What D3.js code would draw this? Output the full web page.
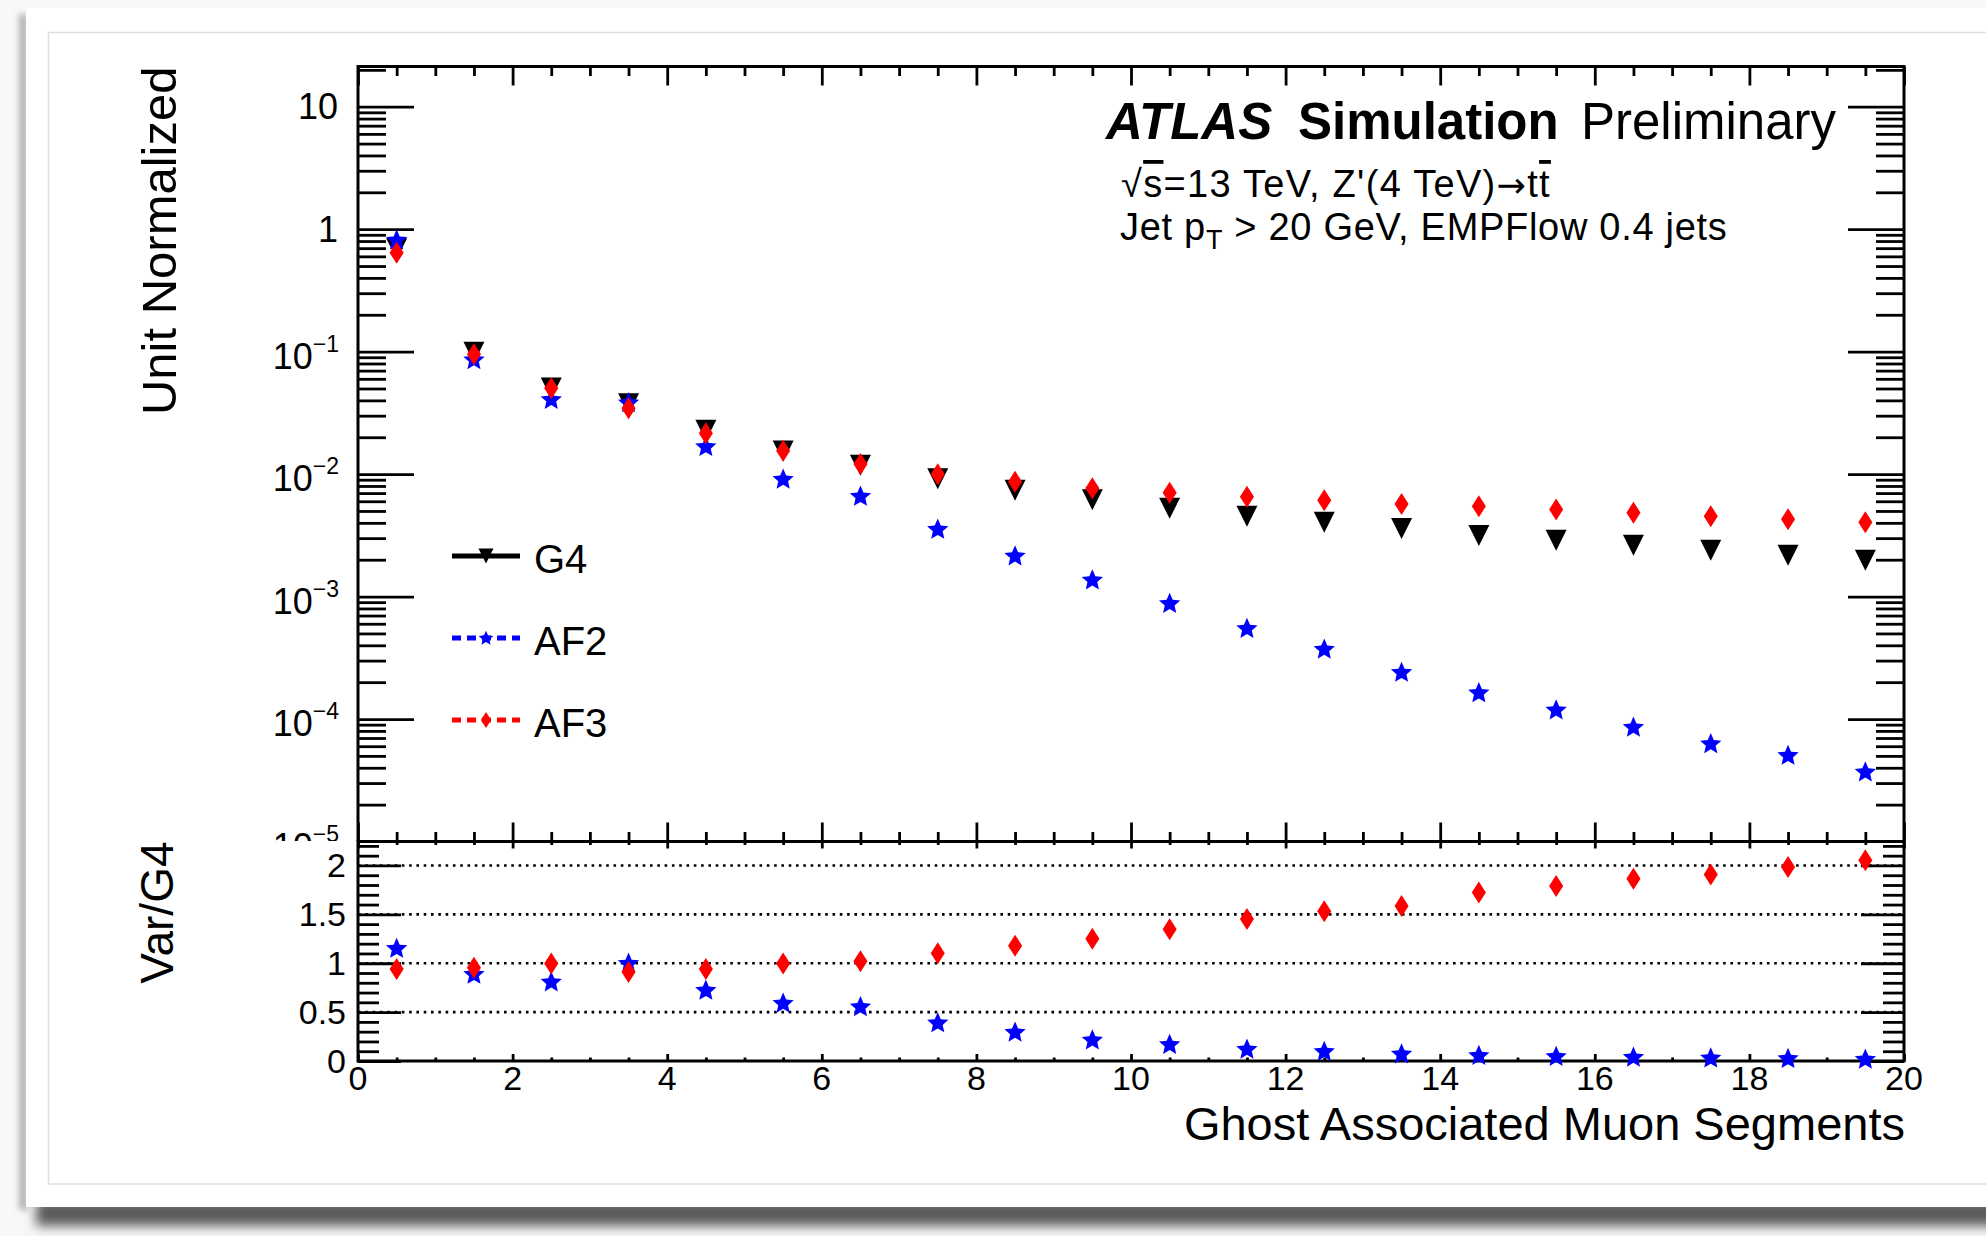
<!DOCTYPE html>
<html>
<head>
<meta charset="utf-8">
<script src="https://cdn.jsdelivr.net/npm/d3@7"></script>
<style>
  html, body { margin: 0; padding: 0; background: #f7f7f7; }
  svg { display: block; }
  text { font-family: "Liberation Sans", Arial, Helvetica, sans-serif; fill: #000; }
</style>
</head>
<body>
<svg id="chart" width="1986" height="1236"></svg>
<script>
// ---- data: bin centres of the muon-segment multiplicity histogram ----
const binCenters = [0.5, 1.5, 2.5, 3.5, 4.5, 5.5, 6.5, 7.5, 8.5, 9.5,
                    10.5, 11.5, 12.5, 13.5, 14.5, 15.5, 16.5, 17.5, 18.5, 19.5];

// unit-normalised fractions per bin
const g4Values  = [0.693, 0.099, 0.0505, 0.0376, 0.0228, 0.01546, 0.0118, 0.00918, 0.00738, 0.00618,
                   0.00526, 0.00453, 0.00404, 0.00359, 0.00316, 0.00288, 0.00262, 0.00239, 0.00217, 0.00198];
const af2Values = [0.816, 0.0860, 0.0408, 0.0383, 0.0168, 0.0091, 0.0066, 0.00355, 0.00215, 0.00137,
                   0.00088, 0.00055, 0.000373, 0.000241, 0.000164, 0.000119, 0.000086, 0.000063, 0.0000506, 0.000037];
const af3Values = [0.642, 0.0950, 0.0502, 0.0345, 0.0216, 0.0155, 0.0121, 0.00997, 0.00867, 0.00766,
                   0.00705, 0.00654, 0.00611, 0.00571, 0.00546, 0.00513, 0.00484, 0.00453, 0.00428, 0.00404];

// ratios to G4
const af2Ratio = [1.153, 0.888, 0.810, 1.000, 0.724, 0.592, 0.557, 0.391, 0.296, 0.217,
                  0.170, 0.122, 0.098, 0.072, 0.058, 0.047, 0.040, 0.031, 0.026, 0.020];
const af3Ratio = [0.942, 0.955, 0.996, 0.911, 0.942, 0.996, 1.020, 1.102, 1.180, 1.251,
                  1.347, 1.452, 1.531, 1.585, 1.724, 1.789, 1.864, 1.908, 1.983, 2.054];

// axis ticks and labels
const xMajorTicks = [0, 2, 4, 6, 8, 10, 12, 14, 16, 18, 20];
const xTickLabels = ["0", "2", "4", "6", "8", "10", "12", "14", "16", "18", "20"];
const mainDecadeExponents = [-5, -4, -3, -2, -1, 0, 1];
const ratioMajorTicks = [0, 0.5, 1, 1.5, 2];
const ratioTickLabels = ["0", "0.5", "1", "1.5", "2"];
const ratioGridValues = [0.5, 1, 1.5, 2];

// ---- layout ----
const W = 1986, H = 1236;
const frameL = 358, frameR = 1904, mainTop = 66.5, padSplit = 841.5, ratioBottom = 1061;

const svg = d3.select("#chart");
const defs = svg.append("defs");
defs.append("filter").attr("id", "shadowBlur")
  .attr("x", "-20%").attr("y", "-200%").attr("width", "140%").attr("height", "500%")
  .append("feGaussianBlur").attr("stdDeviation", 6);
defs.append("filter").attr("id", "edgeBlur")
  .attr("x", "-300%").attr("y", "-5%").attr("width", "700%").attr("height", "110%")
  .append("feGaussianBlur").attr("stdDeviation", 3);
defs.append("clipPath").attr("id", "upperPad")
  .append("rect").attr("x", 0).attr("y", 0).attr("width", W).attr("height", padSplit - 0.5);

// page, drop shadow and slide card
svg.append("rect").attr("width", W).attr("height", H).attr("fill", "#f8f8f8");
svg.append("rect").attr("x", 36).attr("y", 1200).attr("width", W).attr("height", 26)
  .attr("fill", "#5a5a5a").attr("filter", "url(#shadowBlur)");
svg.append("rect").attr("x", 19).attr("y", 14).attr("width", 9).attr("height", 1196)
  .attr("fill", "#b4b4b4").attr("filter", "url(#edgeBlur)");
svg.append("rect").attr("x", 26).attr("y", 8).attr("width", W).attr("height", 1199).attr("fill", "#fff");
svg.append("rect").attr("x", 48.5).attr("y", 32.5).attr("width", W).attr("height", 1151.5)
  .attr("fill", "none").attr("stroke", "#dedede").attr("stroke-width", 1.5);

// ---- scales ----
const x = d3.scaleLinear().domain([0, 20]).range([frameL, frameR]);
const y = d3.scaleLog().domain([1e-5, 21.3]).range([padSplit, mainTop]);
const yr = d3.scaleLinear().domain([0, 2.245]).range([ratioBottom, padSplit]);

// ---- marker shapes ----
const triangleDown = {
  draw(ctx, size) {
    const h = Math.sqrt(size) / 2;
    ctx.moveTo(-h, -h); ctx.lineTo(h, -h); ctx.lineTo(0, h); ctx.closePath();
  }
};
const diamond = {
  draw(ctx, size) {
    const s = Math.sqrt(size);
    const hw = s * 0.32, hh = s * 0.5;
    ctx.moveTo(0, -hh); ctx.lineTo(hw, 0); ctx.lineTo(0, hh); ctx.lineTo(-hw, 0); ctx.closePath();
  }
};
const star = {
  draw(ctx, size) {
    const R = Math.sqrt(size) / 2, r = R * 0.46;
    for (let k = 0; k < 10; k++) {
      const a = -Math.PI / 2 + k * Math.PI / 5;
      const rad = k % 2 === 0 ? R : r;
      const px = rad * Math.cos(a), py = rad * Math.sin(a) + R * 0.05;
      if (k === 0) ctx.moveTo(px, py); else ctx.lineTo(px, py);
    }
    ctx.closePath();
  }
};

// ---- tick helpers ----
const TW = 2.8;
function styleAxis(g) {
  g.select(".domain").remove();
  g.selectAll(".tick line").attr("stroke", "#000").attr("stroke-width", TW);
  g.selectAll(".tick text").remove();
}
function drawTicks(parent, axisGen, transform) {
  parent.append("g").attr("transform", transform).call(axisGen).call(styleAxis);
}

const xMinorTicks = d3.range(0.5, 20, 0.5).filter(v => !xMajorTicks.includes(v));
const yMajorValues = mainDecadeExponents.map(e => Math.pow(10, e));
const yMinorValues = [];
mainDecadeExponents.forEach(e => {
  for (let k = 2; k <= 9; k++) {
    const v = k * Math.pow(10, e);
    if (v < y.domain()[1]) yMinorValues.push(v);
  }
});
const ratioMinorTicks = d3.range(0.1, 2.245, 0.1).map(v => +v.toFixed(1)).filter(v => !ratioMajorTicks.includes(v));

// ================= upper pad =================
const upper = svg.append("g").attr("clip-path", "url(#upperPad)");

// x ticks on bottom and top of the main frame (pointing inward)
drawTicks(upper, d3.axisBottom(x).tickValues(xMajorTicks).tickSize(-19).tickSizeOuter(0), `translate(0,${padSplit})`);
drawTicks(upper, d3.axisBottom(x).tickValues(xMinorTicks).tickSize(-9.5).tickSizeOuter(0), `translate(0,${padSplit})`);
drawTicks(upper, d3.axisTop(x).tickValues(xMajorTicks).tickSize(-19).tickSizeOuter(0), `translate(0,${mainTop})`);
drawTicks(upper, d3.axisTop(x).tickValues(xMinorTicks).tickSize(-9.5).tickSizeOuter(0), `translate(0,${mainTop})`);
// log y ticks, left and right
drawTicks(upper, d3.axisLeft(y).tickValues(yMajorValues).tickSize(-56).tickSizeOuter(0), `translate(${frameL},0)`);
drawTicks(upper, d3.axisLeft(y).tickValues(yMinorValues).tickSize(-28).tickSizeOuter(0), `translate(${frameL},0)`);
drawTicks(upper, d3.axisRight(y).tickValues(yMajorValues).tickSize(-56).tickSizeOuter(0), `translate(${frameR},0)`);
drawTicks(upper, d3.axisRight(y).tickValues(yMinorValues).tickSize(-28).tickSizeOuter(0), `translate(${frameR},0)`);

// y tick labels (powers of ten)
const yLabels = upper.append("g");
mainDecadeExponents.forEach(e => {
  const yy = y(Math.pow(10, e));
  if (e === 0 || e === 1) {
    yLabels.append("text").attr("x", 338).attr("y", yy + 12.5)
      .attr("text-anchor", "end").attr("font-size", 36).text(e === 0 ? "1" : "10");
  } else {
    const t = yLabels.append("text").attr("x", 339).attr("y", yy + 17)
      .attr("text-anchor", "end").attr("font-size", 36);
    t.append("tspan").text("10");
    t.append("tspan").attr("dy", -17).attr("font-size", 23).text("\u2212" + (-e));
  }
});

// frame
upper.append("rect").attr("x", frameL).attr("y", mainTop)
  .attr("width", frameR - frameL).attr("height", padSplit - mainTop)
  .attr("fill", "none").attr("stroke", "#000").attr("stroke-width", 3);

// y title
svg.append("text").attr("transform", `translate(176,${mainTop}) rotate(-90)`)
  .attr("text-anchor", "end").attr("font-size", 49).text("Unit Normalized");

// markers
const mainMarks = svg.append("g");
function plotSeries(g, values, yScale, shape, size, color) {
  g.append("g").selectAll("path").data(binCenters).join("path")
    .attr("transform", (d, i) => `translate(${x(d)},${yScale(values[i])})`)
    .attr("d", d3.symbol(shape, size)())
    .attr("fill", color);
}
plotSeries(mainMarks, g4Values, y, triangleDown, 441, "#000");
plotSeries(mainMarks, af2Values, y, star, 500, "#0000ff");
plotSeries(mainMarks, af3Values, y, diamond, 484, "#ff0000");

// legend
const legendEntries = [
  { label: "G4",  color: "#000",    dash: null,  shape: triangleDown, size: 225 },
  { label: "AF2", color: "#0000ff", dash: "9 6", shape: star,         size: 240 },
  { label: "AF3", color: "#ff0000", dash: "9 6", shape: diamond,      size: 256 }
];
const legend = svg.append("g");
legendEntries.forEach((d, i) => {
  const cy = 556 + i * 82;
  legend.append("line").attr("x1", 452).attr("x2", 520).attr("y1", cy).attr("y2", cy)
    .attr("stroke", d.color).attr("stroke-width", 5)
    .attr("stroke-dasharray", d.dash);
  legend.append("path").attr("transform", `translate(486,${cy})`)
    .attr("d", d3.symbol(d.shape, d.size)()).attr("fill", d.color);
  legend.append("text").attr("x", 534).attr("y", cy + 17).attr("font-size", 40).text(d.label);
});

// ATLAS label block
const atlas = svg.append("g");
atlas.append("text").attr("x", 1106).attr("y", 139).attr("font-size", 51)
  .attr("font-weight", "bold").attr("font-style", "italic").text("ATLAS");
atlas.append("text").attr("x", 1298).attr("y", 139).attr("font-size", 51)
  .attr("font-weight", "bold").text("Simulation");
atlas.append("text").attr("x", 1581).attr("y", 139).attr("font-size", 51).text("Preliminary");

const l2 = atlas.append("text").attr("x", 1121).attr("y", 197).attr("font-size", 38)
  .attr("letter-spacing", 1.3);
l2.append("tspan").text("\u221A");
l2.append("tspan").style("text-decoration", "overline").text("s");
l2.append("tspan").text("=13 TeV, Z'(4 TeV)");
l2.append("tspan").style("font-family", "DejaVu Sans").attr("font-size", 35).text("\u2192");
l2.append("tspan").text("t");
l2.append("tspan").style("text-decoration", "overline").text("t");

const l3 = atlas.append("text").attr("x", 1120).attr("y", 240).attr("font-size", 38)
  .attr("letter-spacing", 0.7);
l3.append("tspan").text("Jet p");
l3.append("tspan").attr("dy", 9).attr("font-size", 27).text("T");
l3.append("tspan").attr("dy", -9).text(" > 20 GeV, EMPFlow 0.4 jets");

// ================= ratio pad =================
const lower = svg.append("g");

// dotted reference lines
lower.append("g").selectAll("line").data(ratioGridValues).join("line")
  .attr("x1", frameL).attr("x2", frameR)
  .attr("y1", d => yr(d)).attr("y2", d => yr(d))
  .attr("stroke", "#000").attr("stroke-width", 2.6).attr("stroke-dasharray", "2.6 4.7");

drawTicks(lower, d3.axisTop(x).tickValues(xMajorTicks).tickSize(-7).tickSizeOuter(0), `translate(0,${padSplit})`);
drawTicks(lower, d3.axisTop(x).tickValues(xMinorTicks).tickSize(-3.5).tickSizeOuter(0), `translate(0,${padSplit})`);
drawTicks(lower, d3.axisBottom(x).tickValues(xMajorTicks).tickSize(-7).tickSizeOuter(0), `translate(0,${ratioBottom})`);
drawTicks(lower, d3.axisBottom(x).tickValues(xMinorTicks).tickSize(-3.5).tickSizeOuter(0), `translate(0,${ratioBottom})`);
drawTicks(lower, d3.axisLeft(yr).tickValues(ratioMajorTicks).tickSize(-43).tickSizeOuter(0), `translate(${frameL},0)`);
drawTicks(lower, d3.axisLeft(yr).tickValues(ratioMinorTicks).tickSize(-21).tickSizeOuter(0), `translate(${frameL},0)`);
drawTicks(lower, d3.axisRight(yr).tickValues(ratioMajorTicks).tickSize(-43).tickSizeOuter(0), `translate(${frameR},0)`);
drawTicks(lower, d3.axisRight(yr).tickValues(ratioMinorTicks).tickSize(-21).tickSizeOuter(0), `translate(${frameR},0)`);

lower.append("rect").attr("x", frameL).attr("y", padSplit)
  .attr("width", frameR - frameL).attr("height", ratioBottom - padSplit)
  .attr("fill", "none").attr("stroke", "#000").attr("stroke-width", 3);

// ratio tick labels
lower.append("g").selectAll("text").data(ratioMajorTicks).join("text")
  .attr("x", 346).attr("y", d => yr(d) + 12).attr("text-anchor", "end")
  .attr("font-size", 34).text((d, i) => ratioTickLabels[i]);
lower.append("g").selectAll("text").data(xMajorTicks).join("text")
  .attr("x", d => x(d)).attr("y", 1090).attr("text-anchor", "middle")
  .attr("font-size", 34).text((d, i) => xTickLabels[i]);

// titles
svg.append("text").attr("transform", `translate(173,${padSplit}) rotate(-90)`)
  .attr("text-anchor", "end").attr("font-size", 46).text("Var/G4");
svg.append("text").attr("x", 1905).attr("y", 1140).attr("text-anchor", "end")
  .attr("font-size", 47).text("Ghost Associated Muon Segments");

// ratio markers
plotSeries(lower, af2Ratio, yr, star, 500, "#0000ff");
plotSeries(lower, af3Ratio, yr, diamond, 484, "#ff0000");
</script>
</body>
</html>
